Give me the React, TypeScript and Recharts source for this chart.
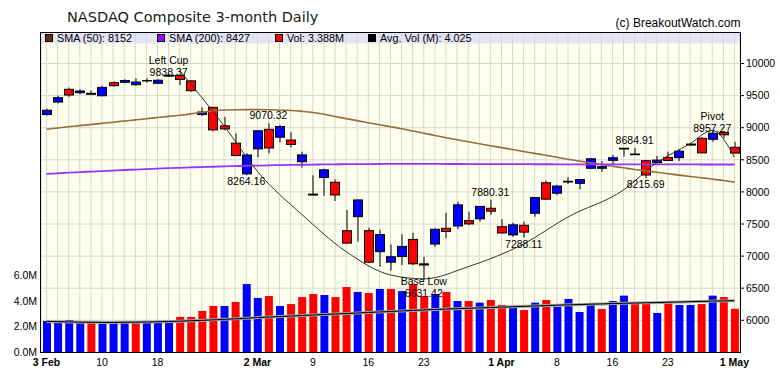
import React from 'react';
import {
  Bar,
  CartesianGrid,
  Cell,
  ComposedChart,
  Line,
  ReferenceDot,
  XAxis,
  YAxis,
} from 'recharts';

const DATES = [
  '3 Feb', '4 Feb', '5 Feb', '6 Feb', '7 Feb', '10 Feb', '11 Feb', '12 Feb', '13 Feb', '14 Feb',
  '18 Feb', '19 Feb', '20 Feb', '21 Feb', '24 Feb', '25 Feb', '26 Feb', '27 Feb', '28 Feb',
  '2 Mar', '3 Mar', '4 Mar', '5 Mar', '6 Mar', '9 Mar', '10 Mar', '11 Mar', '12 Mar', '13 Mar',
  '16 Mar', '17 Mar', '18 Mar', '19 Mar', '20 Mar', '23 Mar', '24 Mar', '25 Mar', '26 Mar', '27 Mar',
  '30 Mar', '31 Mar',
  '1 Apr', '2 Apr', '3 Apr', '6 Apr', '7 Apr', '8 Apr', '9 Apr', '13 Apr', '14 Apr', '15 Apr',
  '16 Apr', '17 Apr', '20 Apr', '21 Apr', '22 Apr', '23 Apr', '24 Apr', '27 Apr', '28 Apr', '29 Apr',
  '30 Apr', '1 May',
];

const OPEN = [
  9205, 9400, 9598, 9545, 9535, 9498, 9700, 9707, 9670, 9735,
  9692, 9803, 9816, 9730, 9205, 9318, 9030, 8760, 8280, 8670,
  8975, 8852, 8808, 8470, 7965, 8225, 8150, 7396, 7614, 7396,
  7069, 6905, 6993, 7260, 6879, 7188, 7433, 7469, 7552, 7580,
  7745, 7458, 7330, 7480, 7667, 8143, 7980, 8165, 8134, 8368,
  8368, 8492, 8680, 8590, 8486, 8455, 8535, 8533, 8745, 8835,
  8820, 8925, 8695,
];
const HIGH = [
  9295, 9500, 9625, 9600, 9580, 9655, 9720, 9755, 9769, 9770,
  9754, 9838.37, 9830, 9735, 9318, 9320, 9170, 8910, 8600, 8960,
  9070.32, 9045, 8930, 8627, 8260, 8360, 8196, 7720, 7880, 7443,
  7406, 7180, 7340, 7365, 6990, 7440, 7676, 7847, 7692, 7780,
  7880.31, 7573, 7520, 7536, 7920, 8174, 8112, 8227, 8200, 8525,
  8480, 8575, 8684, 8684.91, 8500, 8560, 8627, 8660, 8765, 8850,
  8957.27, 8940, 8780,
];
const LOW = [
  9190, 9380, 9480, 9520, 9515, 9490, 9640, 9690, 9654, 9700,
  9680, 9790, 9665, 9560, 9182, 8943, 8960, 8555, 8264.16, 8540,
  8600, 8770, 8695, 8378, 7945, 7940, 7858, 7195, 7224, 6890,
  6835, 6772, 6860, 6860, 6631.42, 7145, 7277, 7420, 7480, 7536,
  7640, 7350, 7300, 7288.11, 7614, 7880, 7950, 8123, 8040, 8360,
  8315, 8435, 8550, 8575, 8215.69, 8440, 8486, 8480, 8720, 8600,
  8780, 8835, 8600,
];
const CLOSE = [
  9273, 9468, 9509, 9572, 9521, 9628, 9655, 9735, 9712, 9731,
  9740, 9817, 9751, 9577, 9245, 8966, 8981, 8566, 8575, 8952,
  8684, 9018, 8739, 8576, 7951, 8344, 7952, 7202, 7875, 6905,
  7335, 6990, 7151, 6880, 6861, 7418, 7384, 7798, 7502, 7774,
  7700, 7361, 7487, 7373, 7913, 7887, 8091, 8154, 8192, 8516,
  8393, 8532, 8668, 8580, 8263, 8495, 8490, 8635, 8730, 8608,
  8915, 8890, 8605,
];
const VOLUME_M = [
  2.43, 2.43, 2.51, 2.3, 2.3, 2.2, 2.43, 2.35, 2.3, 2.3,
  2.3, 2.51, 2.75, 2.75, 3.22, 3.61, 3.61, 3.92, 5.33, 4.24,
  4.39, 3.61, 3.76, 4.31, 4.55, 4.47, 4.31, 5.1, 4.71, 4.63,
  4.94, 4.94, 4.78, 5.31, 4.39, 4.55, 4.71, 4.0, 4.0, 3.87,
  4.08, 3.69, 3.61, 3.29, 3.87, 4.08, 3.56, 4.16, 3.14, 3.76,
  3.37, 4.0, 4.42, 3.87, 3.87, 3.06, 3.82, 3.69, 3.69, 3.76,
  4.42, 4.31, 3.388,
];
const AVG_VOL_M = [
  2.4, 2.38, 2.36, 2.34, 2.33, 2.32, 2.32, 2.33, 2.34, 2.35,
  2.37, 2.39, 2.42, 2.45, 2.48, 2.52, 2.56, 2.6, 2.65, 2.7,
  2.74, 2.78, 2.82, 2.86, 2.9, 2.94, 2.98, 3.02, 3.06, 3.1,
  3.14, 3.18, 3.22, 3.26, 3.3, 3.34, 3.37, 3.4, 3.43, 3.46,
  3.49, 3.52, 3.55, 3.58, 3.61, 3.64, 3.67, 3.7, 3.72, 3.75,
  3.77, 3.8, 3.82, 3.84, 3.86, 3.88, 3.9, 3.92, 3.95, 3.97,
  3.99, 4.01, 4.025,
];
const SMA50 = [
  8975, 8995, 9015, 9032, 9050, 9068, 9086, 9104, 9122, 9140,
  9158, 9176, 9194, 9215, 9240, 9262, 9275, 9280, 9282, 9282,
  9280, 9276, 9268, 9255, 9238, 9210, 9175, 9142, 9110, 9078,
  9046, 9016, 8985, 8950, 8915, 8880, 8845, 8812, 8780, 8750,
  8720, 8690, 8660, 8630, 8600, 8570, 8540, 8510, 8482, 8455,
  8428, 8400, 8375, 8350, 8328, 8305, 8283, 8262, 8240, 8220,
  8200, 8178, 8152,
];
const SMA200 = [
  8280, 8290, 8300, 8309, 8317, 8325, 8333, 8341, 8348, 8355,
  8362, 8369, 8375, 8381, 8387, 8392, 8397, 8402, 8406, 8410,
  8414, 8417, 8420, 8423, 8426, 8428, 8430, 8432, 8433, 8434,
  8435, 8436, 8436, 8436, 8436, 8436, 8435, 8435, 8434, 8434,
  8433, 8433, 8432, 8432, 8431, 8431, 8430, 8430, 8430, 8430,
  8429, 8429, 8429, 8429, 8428, 8428, 8428, 8428, 8428, 8427,
  8427, 8427, 8427,
];

// cup-with-handle guide line, read at a few points
const CUP_DATES = ['20 Feb', '26 Feb', '2 Mar', '6 Mar', '12 Mar', '18 Mar', '23 Mar', '27 Mar', '3 Apr', '9 Apr', '17 Apr', '22 Apr', '27 Apr', '29 Apr', '1 May'];
const CUP_VALUES = [9890, 9030, 8320, 7650, 7070, 6706, 6645, 6835, 7190, 7610, 8030, 8455, 8751, 8957.27, 8540];

const NOTE_DATES = ['19 Feb', '3 Mar', '28 Feb', '23 Mar', '31 Mar', '3 Apr', '20 Apr', '21 Apr', '29 Apr'];
const NOTE_VALUES = [9838.37, 9070.32, 8264.16, 6631.42, 7880.31, 7288.11, 8684.91, 8215.69, 8957.27];
const NOTE_NAMES = ['Left Cup', '', '', 'Base Low', '', '', '', '', 'Pivot'];
const NOTE_SIDES = ['high', 'high', 'low', 'low', 'high', 'low', 'high', 'low', 'high'];

const TICK_DATES = ['3 Feb', '10 Feb', '18 Feb', '2 Mar', '9 Mar', '16 Mar', '23 Mar', '1 Apr', '8 Apr', '16 Apr', '23 Apr', '1 May'];
const TICK_TEXT = ['3 Feb', '10', '18', '2 Mar', '9', '16', '23', '1 Apr', '8', '16', '23', '1 May'];
const PRICE_TICKS = [6000, 6500, 7000, 7500, 8000, 8500, 9000, 9500, 10000];
const VOL_TICKS = [0, 2, 4, 6];

const BLUE = '#0000ff';
const RED = '#ff0000';
const FONT = '"Liberation Sans", Arial, sans-serif';

const rows = DATES.map((date, i) => {
  const c = CUP_DATES.indexOf(date);
  return {
    date,
    open: OPEN[i],
    high: HIGH[i],
    low: LOW[i],
    close: CLOSE[i],
    range: [LOW[i], HIGH[i]],
    vol: VOLUME_M[i],
    avgVol: AVG_VOL_M[i],
    sma50: SMA50[i],
    sma200: SMA200[i],
    cup: c >= 0 ? CUP_VALUES[c] : null,
  };
});

const Candle = (props: any) => {
  const { x, y, width, height, payload } = props;
  if (x == null || y == null) return <g />;
  const yTop = Math.min(y, y + height);
  const yBot = Math.max(y, y + height);
  const span = payload.high - payload.low || 1;
  const toY = (v: number) => yTop + ((payload.high - v) / span) * (yBot - yTop);
  const cx = Math.round(x + width / 2);
  const bTop = toY(Math.max(payload.open, payload.close));
  const bBot = toY(Math.min(payload.open, payload.close));
  const up = payload.close >= payload.open;
  return (
    <g>
      <line x1={cx} x2={cx} y1={yTop} y2={yBot} stroke="#000" strokeWidth={1} />
      <rect
        x={cx - 4.5}
        y={bTop}
        width={9}
        height={Math.max(bBot - bTop, 0.4)}
        fill={up ? BLUE : RED}
        stroke="#000"
        strokeWidth={1}
      />
    </g>
  );
};

const DateTick = ({ x, y, payload }: any) => {
  const k = TICK_DATES.indexOf(payload.value);
  if (k < 0) return <g />;
  const bold = TICK_TEXT[k].includes(' ');
  return (
    <text x={x} y={y + 14} textAnchor="middle" fontSize={10.5} fontFamily={FONT} fontWeight={bold ? 'bold' : 'normal'} fill="#000">
      {TICK_TEXT[k]}
    </text>
  );
};

const Note = ({ cx, cy, name, value, side }: any) => {
  if (cx == null || cy == null) return <g />;
  let numY: number;
  let nameY = 0;
  if (side === 'high') {
    numY = name ? cy + 2 : cy - 4;
    nameY = numY - 12;
  } else if (name) {
    nameY = cy + 5.5;
    numY = cy + 17;
  } else {
    numY = cy + 10;
  }
  return (
    <g fontFamily={FONT} fontSize={10.5} fill="#000" textAnchor="middle">
      {name ? <text x={cx} y={nameY}>{name}</text> : null}
      <text x={cx} y={numY}>{value.toFixed(2)}</text>
    </g>
  );
};

const LEGEND = [
  { x: 45, color: '#663300', text: 'SMA (50): 8152' },
  { x: 157, color: '#9900ff', text: 'SMA (200): 8427' },
  { x: 275, color: '#ff0000', text: 'Vol: 3.388M' },
  { x: 368, color: '#000000', text: 'Avg. Vol (M): 4.025' },
];

export default function App() {
  return (
    <div style={{ position: 'absolute', left: 0, top: 0, width: 780, height: 378, background: '#fff', overflow: 'hidden' }}>
      <ComposedChart
        width={780}
        height={378}
        data={rows}
        margin={{ top: 32, right: 0, bottom: 0, left: 0 }}
      >
        <CartesianGrid
          xAxisId={0}
          yAxisId="price"
          stroke="#d6d6d6"
          fill="#ffffee"
          horizontalValues={PRICE_TICKS}
        />
        <XAxis
          dataKey="date"
          interval={0}
          height={26}
          axisLine={false}
          tickLine={false}
          tickSize={0}
          tickMargin={0}
          tick={<DateTick />}
        />
        <XAxis xAxisId="v" dataKey="date" hide />
        <YAxis
          yAxisId="vol"
          orientation="left"
          width={41}
          domain={[0, 25.1]}
          ticks={VOL_TICKS}
          allowDataOverflow
          axisLine={false}
          tickLine={false}
          tickSize={0}
          tickMargin={4}
          tick={{ fontSize: 10.5, fill: '#000', fontFamily: FONT }}
          tickFormatter={(v: number) => `${v.toFixed(1)}M`}
        />
        <YAxis
          yAxisId="price"
          orientation="right"
          width={40}
          domain={[5506, 10491]}
          ticks={PRICE_TICKS}
          allowDataOverflow
          axisLine={false}
          tickLine={{ stroke: '#000' }}
          tickSize={4}
          tickMargin={2}
          tick={{ fontSize: 10.5, fill: '#000', fontFamily: FONT }}
        />
        <Bar xAxisId="v" yAxisId="vol" dataKey="vol" barSize={8} isAnimationActive={false}>
          {rows.map((r, i) => (
            <Cell key={i} fill={i === 0 || CLOSE[i] >= CLOSE[i - 1] ? BLUE : RED} />
          ))}
        </Bar>
        <Line xAxisId="v" yAxisId="vol" dataKey="avgVol" stroke="#a0a0a0" strokeWidth={3} dot={false} isAnimationActive={false} type="monotone" />
        <Line xAxisId="v" yAxisId="vol" dataKey="avgVol" stroke="#000" strokeWidth={1} dot={false} isAnimationActive={false} type="monotone" />
        <Bar yAxisId="price" dataKey="range" barSize={10} shape={(p: any) => <Candle {...p} />} isAnimationActive={false} />
        <Line yAxisId="price" dataKey="sma50" stroke="#9a6a3a" strokeWidth={1.6} dot={false} isAnimationActive={false} type="monotone" />
        <Line yAxisId="price" dataKey="sma200" stroke="#9933ff" strokeWidth={1.8} dot={false} isAnimationActive={false} type="monotone" />
        <Line yAxisId="price" dataKey="cup" stroke="#333" strokeWidth={1} dot={false} connectNulls isAnimationActive={false} type="monotone" />
        {NOTE_DATES.map((d, i) => (
          <ReferenceDot
            key={d + i}
            yAxisId="price"
            x={d}
            y={NOTE_VALUES[i]}
            r={0}
            shape={(p: any) => (
              <Note cx={p.cx} cy={p.cy} name={NOTE_NAMES[i]} value={NOTE_VALUES[i]} side={NOTE_SIDES[i]} />
            )}
          />
        ))}
      </ComposedChart>
      <svg width={780} height={378} style={{ position: 'absolute', left: 0, top: 0, pointerEvents: 'none' }}>
        <text x={67} y={21.7} fontFamily='"DejaVu Sans", sans-serif' fontSize={14.5} fill="#1a1a1a">
          NASDAQ Composite 3-month Daily
        </text>
        <text x={740.5} y={26.7} textAnchor="end" fontFamily={FONT} fontSize={12} fill="#000">
          (c) BreakoutWatch.com
        </text>
        <rect x={41} y={33} width={699} height={10.5} fill="rgba(212,212,246,0.62)" />
        {LEGEND.map((l) => (
          <g key={l.text}>
            <rect x={l.x + 0.5} y={34.5} width={7} height={7} fill={l.color} stroke="#000" />
            <text x={l.x + 12} y={42} fontFamily={FONT} fontSize={10.8} fill="#000">
              {l.text}
            </text>
          </g>
        ))}
        <rect x={40.5} y={32.5} width={700} height={320} fill="none" stroke="#000" strokeWidth={1} />
      </svg>
    </div>
  );
}
